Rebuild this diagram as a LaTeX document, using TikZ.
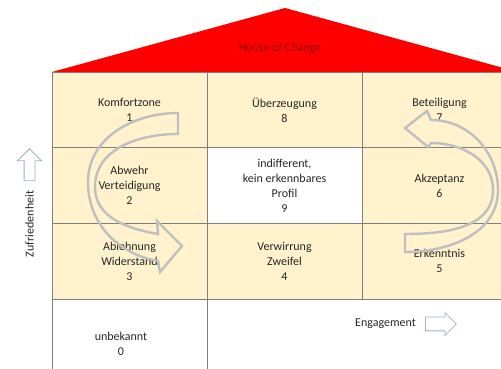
\documentclass[tikz,border=0pt]{standalone}
\usepackage{fontspec}
\setmainfont{Carlito}
\usepackage{tikz}
\usepackage{xcolor}
\usetikzlibrary{positioning,shapes.arrows}
\definecolor{roofred}  {HTML}{FF0000}
\definecolor{roofink}  {HTML}{8B0000}
\definecolor{cream}    {HTML}{FFF2CC}
\definecolor{gridline} {HTML}{7F7F7F}
\definecolor{loopgray} {HTML}{BFBFBF}
\definecolor{axisblue} {HTML}{9DB0CC}
\definecolor{ink}      {HTML}{262626}

\tikzset{
  cell/.style={draw=gridline,line width=0.7pt,fill=cream,
               minimum width=155pt,minimum height=75.67pt,
               inner sep=0pt,outer sep=0pt,align=center,text=ink,
               font=\fontsize{12}{15}\selectfont},
  plain/.style={align=center,text=ink,inner sep=1pt,
               font=\fontsize{12}{15}\selectfont},
  axisarrow/.style={single arrow,draw=axisblue,fill=white,line width=0.8pt},
  loop/.style={draw=loopgray,line width=2.4pt,line join=miter}
}

\begin{document}
\begin{tikzpicture}[x=1pt,y=1pt]
  \useasboundingbox (0,0) rectangle (501,369);
  \clip (0,0) rectangle (501,369);

  % roof
  \fill[roofred] (52,297) -- (285,361) -- (518,297) -- cycle;
  \node[plain,text=roofink] (roof) at (280,321) {House of Change};

  % grid of states
  \node[cell] (c1) at (129.5,259.17) {Komfortzone\\1};
  \node[cell,right=0pt of c1] (c8) {Überzeugung\\8};
  \node[cell,right=0pt of c8] (c7) {Beteiligung\\7};
  \node[cell,below=0pt of c1] (c2) {Abwehr\\Verteidigung\\2};
  \node[cell,below=0pt of c8,fill=white] (c9) {indifferent,\\kein erkennbares\\Profil\\9};
  \node[cell,below=0pt of c7] (c6) {Akzeptanz\\6};
  \node[cell,below=0pt of c2] (c3) {Ablehnung\\Widerstand\\3};
  \node[cell,below=0pt of c9] (c4) {Verwirrung\\Zweifel\\4};
  \node[cell,below=0pt of c6] (c5) {Erkenntnis\\5};
  \node[cell,below=0pt of c3,fill=white,minimum height=100pt] (c0) {};
  \node[plain] (t0) at (121,25) {unbekannt\\0};

  % axes
  \node[plain,rotate=90] (zuf) at (29.5,145) {Zufriedenheit};
  \node[axisarrow,rotate=90,minimum height=32pt,minimum width=23pt,
        inner sep=5pt,single arrow head extend=6.5pt] (uparrow) at (29.5,201.5) {};
  \node[plain] (eng) at (385.5,45) {Engagement};
  \node[axisarrow,minimum height=31pt,minimum width=22pt,
        inner sep=6.5pt,single arrow head extend=4.5pt,
        right=8pt of eng] (rightarrow) {};

  % change loops
  \draw[loop] (178,256) to[out=180,in=90] (88,187) to[out=270,in=170] (158,108)
    -- (160,97) -- (182,123) -- (157,148) -- (158,135)
    to[out=170,in=270] (95,182) to[out=90,in=180] (178,235) -- cycle;
  \draw[loop] (405,117) to[out=0,in=270] (498,179) to[out=90,in=0] (431,249)
    -- (427,258) -- (405,241) -- (428,222) -- (431,226)
    to[out=0,in=90] (493,179) to[out=270,in=0] (405,135) -- cycle;
\end{tikzpicture}
\end{document}
